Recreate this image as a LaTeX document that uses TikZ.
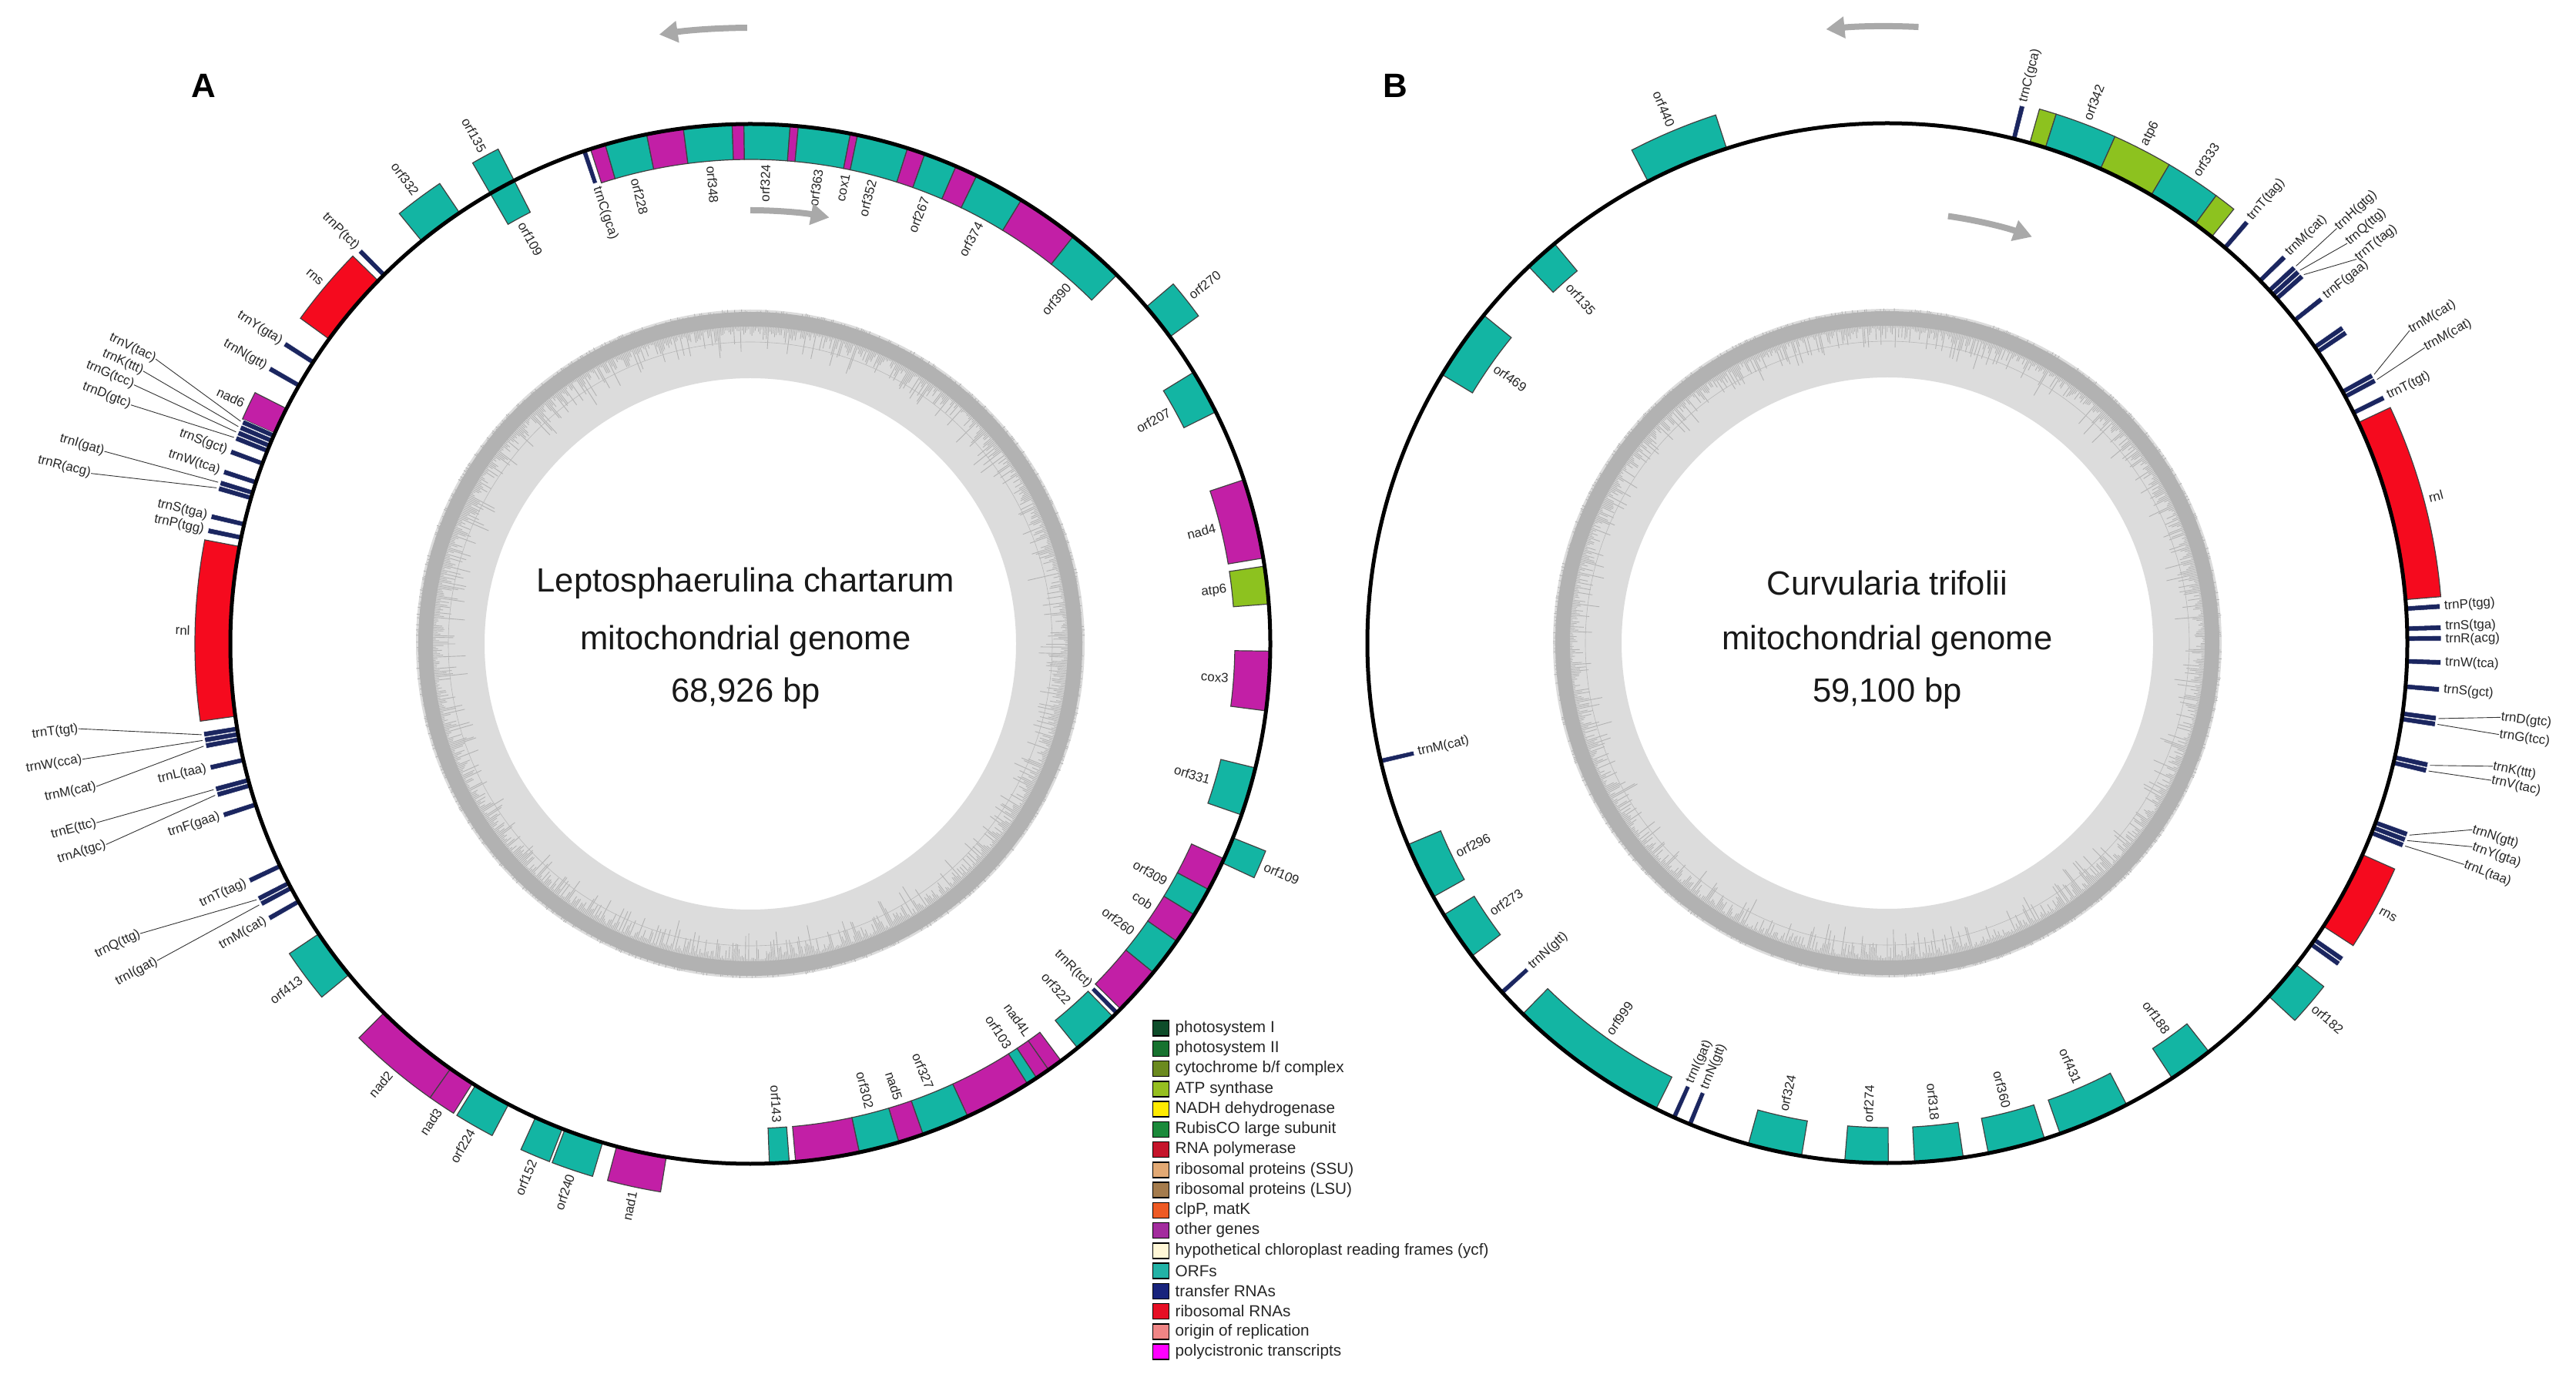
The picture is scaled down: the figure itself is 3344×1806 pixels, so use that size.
\documentclass[tikz,border=0pt]{standalone}
\usepackage{fontspec}
\setmainfont{Liberation Sans}
\usetikzlibrary{calc,arrows.meta}
\definecolor{orfc}{HTML}{13B5A3}
\definecolor{othc}{HTML}{C21FA6}
\definecolor{rrnac}{HTML}{F50A1E}
\definecolor{atpc}{HTML}{8DC21F}
\definecolor{trnac}{HTML}{1B2660}
\definecolor{ringd}{HTML}{B2B2B2}
\definecolor{ringl}{HTML}{DCDCDC}
\definecolor{arrc}{HTML}{A9A9A9}
\definecolor{lg1}{HTML}{0E4D2A}
\definecolor{lg2}{HTML}{17722F}
\definecolor{lg3}{HTML}{6B8A1F}
\definecolor{lg4}{HTML}{96BF20}
\definecolor{lg5}{HTML}{FFEB00}
\definecolor{lg6}{HTML}{1B8A3B}
\definecolor{lg7}{HTML}{C5142B}
\definecolor{lg8}{HTML}{E2A974}
\definecolor{lg9}{HTML}{A47B4C}
\definecolor{lg10}{HTML}{EE5A24}
\definecolor{lg11}{HTML}{A32C9E}
\definecolor{lg12}{HTML}{FFF7D6}
\definecolor{lg13}{HTML}{22B2A6}
\definecolor{lg14}{HTML}{18237C}
\definecolor{lg15}{HTML}{E60F25}
\definecolor{lg16}{HTML}{F08585}
\definecolor{lg17}{HTML}{FF00FF}

% gene box outside / inside the circle: centre, start angle, end angle (clockwise from top), colour
\newcommand\gout[4]{\filldraw[gbox,fill=#4] ($(#1)+({90-(#2)}:675)$) arc[start angle={90-(#2)},end angle={90-(#3)},radius=675] -- ($(#1)+({90-(#3)}:721)$) arc[start angle={90-(#3)},end angle={90-(#2)},radius=721] -- cycle;}
\newcommand\gin[4]{\filldraw[gbox,fill=#4] ($(#1)+({90-(#2)}:675)$) arc[start angle={90-(#2)},end angle={90-(#3)},radius=675] -- ($(#1)+({90-(#3)}:629)$) arc[start angle={90-(#3)},end angle={90-(#2)},radius=629] -- cycle;}
% tRNA outside / inside
\newcommand\trout[2]{\filldraw[tbox] ($(#1)+({90-(#2)+0.27}:675)$) -- ($(#1)+({90-(#2)+0.27}:719)$) -- ($(#1)+({90-(#2)-0.27}:719)$) -- ($(#1)+({90-(#2)-0.27}:675)$) -- cycle;}
\newcommand\trin[2]{\filldraw[tbox] ($(#1)+({90-(#2)+0.27}:675)$) -- ($(#1)+({90-(#2)+0.27}:631)$) -- ($(#1)+({90-(#2)-0.27}:631)$) -- ($(#1)+({90-(#2)-0.27}:675)$) -- cycle;}
% radial label: centre, angle, radius, text, name
\newcommand\glab[5]{%
  \pgfmathsetmacro\gth{mod((#2)+720,360)}%
  \pgfmathsetmacro\grr{#3}%
  \ifdim\gth pt<180pt
    \pgfmathsetmacro\grot{90-\gth}%
    \ifdim\grr pt>675pt \def\ganc{west}\else\def\ganc{east}\fi
  \else
    \pgfmathsetmacro\grot{270-\gth}%
    \ifdim\grr pt>675pt \def\ganc{east}\else\def\ganc{west}\fi
  \fi
  \node[lab,rotate=\grot,anchor=\ganc] (#5) at ($(#1)+({90-\gth}:\grr)$) {#4};%
}
% label with leader line: centre, angle, radius, text, name, tip angle, tip radius
\newcommand\llab[7]{%
  \glab{#1}{#2}{#3}{#4}{#5}%
  \coordinate (#5t) at ($(#1)+({90-(#6)}:#7)$);%
  \draw[lead] (#5.\ganc) -- (#5t);%
}
% GC ring
\newcommand\gcring[1]{%
  \fill[ringl,even odd rule] (#1) circle[radius=434] (#1) circle[radius=345];
  \fill[ringd,even odd rule] (#1) circle[radius=431] (#1) circle[radius=412];
  \foreach \i in {0,...,1199}{%
    \pgfmathsetmacro\sa{\i*0.3}%
    \pgfmathsetmacro\sl{410-42*rnd*rnd}%
    \pgfmathsetmacro\so{427+8*rnd}%
    \draw[ringd,line width=0.09mm] ($(#1)+(\sa:\so)$) -- ($(#1)+(\sa:\sl)$);
  }
  \draw[black!28,line width=0.06mm] (#1) circle[radius=392];
}

\begin{document}
\begin{tikzpicture}[x=0.1mm,y=0.1mm,
  gbox/.style={draw=black!75,line width=0.12mm},
  tbox/.style={fill=trnac,draw=white,line width=0.05mm},
  lab/.style={font=\fontsize{4.8}{5.5}\selectfont,inner sep=0pt,text=black!85},
  lead/.style={draw=black!80,line width=0.09mm},
  garrow/.style={draw=arrc,line width=0.8mm,-{Triangle[length=2.4mm,width=2.7mm]}},
  ctitle/.style={font=\fontsize{12.4}{14}\selectfont,text=black!90},
  panel/.style={font=\bfseries\fontsize{12.5}{14}\selectfont},
  legbox/.style={draw=black,line width=0.15mm,minimum width=2.1mm,minimum height=2.0mm,inner sep=0pt},
  legtxt/.style={font=\fontsize{5.9}{6.5}\selectfont,inner sep=0pt,anchor=west,text=black!85}]
\useasboundingbox (0,0) rectangle (3344,-1806);
\fill[white] (0,0) rectangle (3344,-1806);
\pgfmathsetseed{11}
\coordinate (A) at (974,-836);
\coordinate (B) at (2450,-835);

\gcring{A}
\gcring{B}

% ---------- panel A ----------
% outside genes
\gout{A}{320.8}{326.0}{orfc}
\gout{A}{330.0}{333.0}{orfc}
\gout{A}{305.9}{314.3}{rrnac}
\gout{A}{293.9}{296.9}{othc}
\gout{A}{262.0}{280.8}{rrnac}
\gout{A}{230.5}{236.1}{orfc}
\gout{A}{215.2}{224.8}{othc}
\gout{A}{212.3}{215.2}{othc}
\gout{A}{207.7}{211.9}{orfc}
\gout{A}{201.2}{204.4}{orfc}
\gout{A}{196.5}{200.9}{orfc}
\gout{A}{189.3}{194.9}{othc}
\gout{A}{49.6}{53.8}{orfc}
\gout{A}{111.9}{114.9}{orfc}
% inside genes
\gin{A}{330.0}{333.0}{orfc}
\gin{A}{342.1}{343.8}{othc}
\gin{A}{343.8}{348.5}{orfc}
\gin{A}{348.5}{352.6}{othc}
\gin{A}{352.6}{358.0}{orfc}
\gin{A}{358.0}{359.3}{othc}
\gin{A}{359.3}{364.4}{orfc}
\gin{A}{4.4}{5.3}{othc}
\gin{A}{5.3}{11.1}{orfc}
\gin{A}{11.1}{11.9}{othc}
\gin{A}{11.9}{17.6}{orfc}
\gin{A}{17.6}{19.6}{othc}
\gin{A}{19.6}{23.3}{orfc}
\gin{A}{23.3}{25.8}{othc}
\gin{A}{25.8}{31.4}{orfc}
\gin{A}{31.4}{38.4}{othc}
\gin{A}{38.4}{44.8}{orfc}
\gin{A}{58.5}{63.5}{orfc}
\gin{A}{71.6}{80.5}{othc}
\gin{A}{81.4}{85.6}{atpc}
\gin{A}{90.8}{97.4}{othc}
\gin{A}{103.8}{109.2}{orfc}
\gin{A}{114.4}{118.2}{othc}
\gin{A}{118.2}{121.4}{orfc}
\gin{A}{121.4}{124.9}{othc}
\gin{A}{124.9}{129.2}{orfc}
\gin{A}{129.2}{134.6}{othc}
\gin{A}{135.8}{141.0}{orfc}
\gin{A}{143.3}{145.0}{othc}
\gin{A}{145.0}{146.6}{othc}
\gin{A}{146.6}{147.8}{orfc}
\gin{A}{147.8}{155.3}{othc}
\gin{A}{155.3}{160.6}{orfc}
\gin{A}{160.6}{163.4}{othc}
\gin{A}{163.4}{167.9}{orfc}
\gin{A}{167.9}{175.0}{othc}
\gin{A}{175.7}{177.9}{orfc}
% tRNAs
\trout{A}{315.2}\trout{A}{302.8}\trout{A}{299.8}
\trout{A}{293.6}\trout{A}{293.0}\trout{A}{292.4}\trout{A}{291.8}
\trout{A}{290.3}\trout{A}{288.1}\trout{A}{286.9}\trout{A}{286.3}
\trout{A}{283.3}\trout{A}{281.8}
\trout{A}{260.6}\trout{A}{260.0}\trout{A}{259.4}
\trout{A}{257.1}\trout{A}{254.8}\trout{A}{254.2}\trout{A}{252.0}
\trout{A}{244.7}\trout{A}{242.6}\trout{A}{242.0}\trout{A}{240.3}
\trin{A}{341.4}\trin{A}{135.2}
\draw[line width=0.5mm] (A) circle[radius=675];

% labels A outside
\glab{A}{323.4}{727}{orf332}{a1}
\glab{A}{331.5}{727}{orf135}{a2}
\glab{A}{310.1}{727}{rns}{a3}
\glab{A}{295.4}{727}{nad6}{a4}
\glab{A}{271.4}{727}{rnl}{a5}
\glab{A}{233.3}{727}{orf413}{a6}
\glab{A}{220.0}{727}{nad2}{a7}
\glab{A}{213.75}{727}{nad3}{a8}
\glab{A}{209.8}{727}{orf224}{a9}
\glab{A}{202.8}{727}{orf152}{a10}
\glab{A}{198.7}{727}{orf240}{a11}
\glab{A}{192.1}{727}{nad1}{a12}
\glab{A}{51.7}{727}{orf270}{a13}
\glab{A}{113.4}{727}{orf109}{a14}
\glab{A}{315.2}{724}{trnP(tct)}{a15}
\glab{A}{302.8}{724}{trnY(gta)}{a16}
\glab{A}{299.8}{724}{trnN(gtt)}{a17}
\glab{A}{290.3}{724}{trnS(gct)}{a18}
\glab{A}{288.1}{724}{trnW(tca)}{a19}
\glab{A}{283.3}{724}{trnS(tga)}{a20}
\glab{A}{281.8}{724}{trnP(tgg)}{a21}
\glab{A}{257.1}{724}{trnL(taa)}{a22}
\glab{A}{252.0}{724}{trnF(gaa)}{a23}
\glab{A}{244.7}{724}{trnT(tag)}{a24}
\glab{A}{240.3}{724}{trnM(cat)}{a25}
\llab{A}{295.6}{856}{trnV(tac)}{a26}{293.6}{722}
\llab{A}{294.2}{864}{trnK(ttt)}{a27}{293.0}{722}
\llab{A}{292.8}{868}{trnG(tcc)}{a28}{292.4}{722}
\llab{A}{291.1}{862}{trnD(gtc)}{a29}{291.8}{722}
\llab{A}{286.6}{875}{trnI(gat)}{a30}{286.9}{722}
\llab{A}{284.5}{884}{trnR(acg)}{a31}{286.3}{722}
\llab{A}{262.8}{879}{trnT(tgt)}{a32}{260.6}{722}
\llab{A}{260.2}{880}{trnW(cca)}{a33}{260.0}{722}
\llab{A}{257.7}{869}{trnM(cat)}{a34}{259.4}{722}
\llab{A}{254.7}{880}{trnE(ttc)}{a35}{254.8}{722}
\llab{A}{252.7}{876}{trnA(tgc)}{a36}{254.2}{722}
\llab{A}{244.6}{877}{trnQ(ttg)}{a37}{242.6}{722}
\llab{A}{241.9}{873}{trnI(gat)}{a38}{242.0}{722}
% labels A inside
\glab{A}{331.5}{623}{orf109}{a40}
\glab{A}{341.4}{626}{trnC(gca)}{a41}
\glab{A}{346.1}{623}{orf228}{a42}
\glab{A}{355.3}{623}{orf348}{a43}
\glab{A}{1.85}{623}{orf324}{a44}
\glab{A}{8.2}{623}{orf363}{a45}
\glab{A}{11.5}{623}{cox1}{a46}
\glab{A}{14.75}{623}{orf352}{a47}
\glab{A}{21.45}{623}{orf267}{a48}
\glab{A}{28.6}{623}{orf374}{a49}
\glab{A}{41.6}{623}{orf390}{a50}
\glab{A}{61.0}{623}{orf207}{a51}
\glab{A}{76.0}{623}{nad4}{a52}
\glab{A}{83.5}{623}{atp6}{a53}
\glab{A}{94.1}{623}{cox3}{a54}
\glab{A}{106.5}{623}{orf331}{a55}
\glab{A}{119.8}{623}{orf309}{a56}
\glab{A}{123.2}{623}{cob}{a57}
\glab{A}{127.0}{623}{orf260}{a58}
\glab{A}{135.2}{626}{trnR(tct)}{a59}
\glab{A}{138.4}{623}{orf322}{a60}
\glab{A}{144.6}{623}{nad4L}{a61}
\glab{A}{147.4}{623}{orf103}{a62}
\glab{A}{158.0}{623}{orf327}{a63}
\glab{A}{162.0}{623}{nad5}{a64}
\glab{A}{165.6}{623}{orf302}{a65}
\glab{A}{176.8}{623}{orf143}{a66}

% ---------- panel B ----------
\gout{B}{332.6}{342.0}{orfc}
\gout{B}{15.9}{17.7}{atpc}
\gout{B}{17.7}{24.2}{orfc}
\gout{B}{24.2}{30.5}{atpc}
\gout{B}{30.5}{36.3}{orfc}
\gout{B}{36.3}{38.6}{atpc}
\gout{B}{64.9}{85.2}{rrnac}
\gout{B}{114.0}{123.0}{rrnac}
\gout{B}{128.2}{132.8}{orfc}
\gin{B}{316.4}{320.2}{orfc}
\gin{B}{301.1}{309.1}{orfc}
\gin{B}{240.8}{247.2}{orfc}
\gin{B}{233.0}{238.5}{orfc}
\gin{B}{206.4}{224.5}{orfc}
\gin{B}{189.5}{195.5}{orfc}
\gin{B}{179.9}{184.7}{orfc}
\gin{B}{171.6}{177.0}{orfc}
\gin{B}{162.4}{168.8}{orfc}
\gin{B}{152.6}{160.6}{orfc}
\gin{B}{141.8}{146.8}{orfc}
\trout{B}{14.1}\trout{B}{40.5}\trout{B}{45.8}
\trout{B}{47.3}\trout{B}{47.9}\trout{B}{48.5}
\trout{B}{51.6}\trout{B}{55.3}\trout{B}{55.9}
\trout{B}{61.1}\trout{B}{61.7}\trout{B}{63.7}
\trout{B}{86.2}\trout{B}{88.4}\trout{B}{89.5}\trout{B}{92.0}\trout{B}{94.8}
\trout{B}{97.8}\trout{B}{98.4}\trout{B}{102.7}\trout{B}{103.3}
\trout{B}{110.2}\trout{B}{110.8}\trout{B}{111.4}
\trout{B}{124.8}\trout{B}{125.4}
\trin{B}{256.9}\trin{B}{227.8}\trin{B}{204.2}\trin{B}{202.3}
\draw[line width=0.5mm] (B) circle[radius=675];

\glab{B}{337.3}{727}{orf440}{b1}
\glab{B}{14.1}{724}{trnC(gca)}{b2}
\glab{B}{20.9}{727}{orf342}{b3}
\glab{B}{27.3}{727}{atp6}{b4}
\glab{B}{33.4}{727}{orf333}{b5}
\glab{B}{75.0}{727}{rnl}{b6}
\glab{B}{118.5}{727}{rns}{b7}
\glab{B}{130.5}{727}{orf182}{b8}
\glab{B}{40.5}{724}{trnT(tag)}{b9}
\glab{B}{45.8}{724}{trnM(cat)}{b10}
\glab{B}{51.6}{724}{trnF(gaa)}{b11}
\glab{B}{63.7}{724}{trnT(tgt)}{b12}
\glab{B}{86.2}{724}{trnP(tgg)}{b13}
\glab{B}{88.3}{724}{trnS(tga)}{b14}
\glab{B}{89.6}{724}{trnR(acg)}{b15}
\glab{B}{92.0}{724}{trnW(tca)}{b16}
\glab{B}{94.8}{724}{trnS(gct)}{b17}
\llab{B}{47.3}{794}{trnH(gtg)}{b20}{47.3}{722}
\llab{B}{49.0}{791}{trnQ(ttg)}{b21}{47.9}{722}
\llab{B}{50.7}{787}{trnT(tag)}{b22}{48.5}{722}
\llab{B}{59.1}{790}{trnM(cat)}{b23}{61.1}{722}
\llab{B}{61.2}{796}{trnM(cat)}{b24}{61.7}{722}
\llab{B}{96.9}{802}{trnD(gtc)}{b25}{97.8}{722}
\llab{B}{98.5}{803}{trnG(tcc)}{b26}{98.4}{722}
\llab{B}{101.5}{802}{trnK(ttt)}{b27}{102.7}{722}
\llab{B}{102.8}{804}{trnV(tac)}{b28}{103.3}{722}
\llab{B}{107.7}{797}{trnN(gtt)}{b29}{110.2}{722}
\llab{B}{109.2}{804}{trnY(gta)}{b30}{110.8}{722}
\llab{B}{111.0}{802}{trnL(taa)}{b31}{111.4}{722}
\glab{B}{318.3}{623}{orf135}{b40}
\glab{B}{305.1}{623}{orf469}{b41}
\glab{B}{256.9}{626}{trnM(cat)}{b42}
\glab{B}{244.0}{623}{orf296}{b43}
\glab{B}{235.8}{623}{orf273}{b44}
\glab{B}{227.8}{626}{trnN(gtt)}{b45}
\glab{B}{215.5}{623}{orf999}{b46}
\glab{B}{204.2}{626}{trnI(gat)}{b47}
\glab{B}{202.3}{626}{trnN(gtt)}{b48}
\glab{B}{192.5}{623}{orf324}{b49}
\glab{B}{182.3}{623}{orf274}{b50}
\glab{B}{174.3}{623}{orf318}{b51}
\glab{B}{165.6}{623}{orf360}{b52}
\glab{B}{156.6}{623}{orf431}{b53}
\glab{B}{144.3}{623}{orf188}{b54}

% direction arrows
\draw[garrow] ($(A)+(90.3:800)$) arc[start angle=90.3,end angle=98.5,radius=800];
\draw[garrow] ($(A)+(90:563)$) arc[start angle=90,end angle=79.5,radius=563];
\draw[garrow] ($(B)+(87.1:801)$) arc[start angle=87.1,end angle=95.7,radius=801];
\draw[garrow] ($(B)+(81.9:560)$) arc[start angle=81.9,end angle=70.4,radius=560];

% centre titles
\node[ctitle] (tA1) at (968,-757) {Leptosphaerulina chartarum};
\node[ctitle] (tA2) at (968,-832) {mitochondrial genome};
\node[ctitle] (tA3) at (968,-900) {68,926 bp};
\node[ctitle] (tB1) at (2450,-757) {Curvularia trifolii};
\node[ctitle] (tB2) at (2450,-832) {mitochondrial genome};
\node[ctitle] (tB3) at (2450,-900) {59,100 bp};
\node[panel] (pA) at (264,-111) {A};
\node[panel] (pB) at (1811,-111) {B};

% legend
\foreach \c/\t [count=\k] in {lg1/photosystem I,lg2/photosystem II,lg3/{cytochrome b{/}f complex},lg4/ATP synthase,lg5/NADH dehydrogenase,lg6/RubisCO large subunit,lg7/RNA polymerase,lg8/ribosomal proteins (SSU),lg9/ribosomal proteins (LSU),lg10/{clpP, matK},lg11/other genes,lg12/hypothetical chloroplast reading frames (ycf),lg13/ORFs,lg14/transfer RNAs,lg15/ribosomal RNAs,lg16/origin of replication,lg17/polycistronic transcripts}{
  \node[legbox,fill=\c] (lb\k) at (1507,{-1335-26.25*(\k-1)}) {};
  \node[legtxt] (lt\k) at (1525,{-1335-26.25*(\k-1)}) {\t};
}
\end{tikzpicture}
\end{document}
